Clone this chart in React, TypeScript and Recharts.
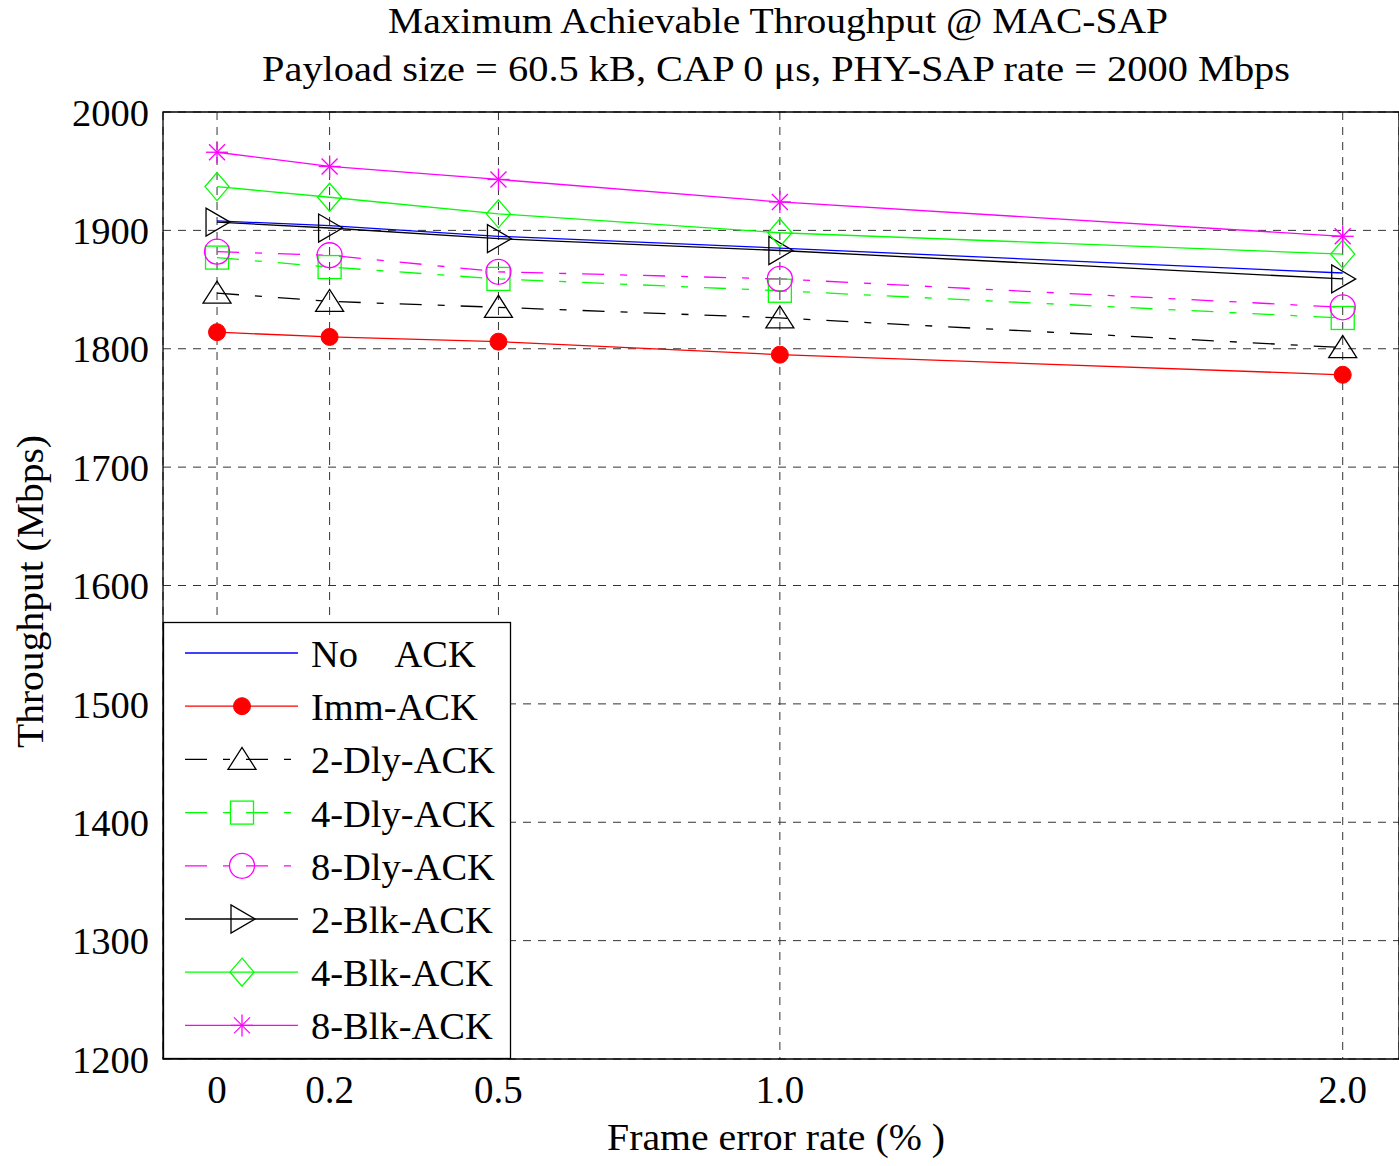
import * as React from 'react'
import { LineChart, Line, XAxis, YAxis, CartesianGrid, ReferenceArea } from 'recharts'

// frame error rate (%) and the throughput of each ACK policy (Mbps)
const fer = [0, 0.2, 0.5, 1.0, 2.0]
const xTickLabels = ['0', '0.2', '0.5', '1.0', '2.0']
const yTicks = [1200, 1300, 1400, 1500, 1600, 1700, 1800, 1900, 2000]

const noAck = [1908, 1904, 1895, 1885, 1864]
const immAck = [1814, 1810, 1806, 1795, 1778]
const dly2Ack = [1847, 1840, 1835, 1826, 1801]
const dly4Ack = [1877, 1869, 1859, 1849, 1826]
const dly8Ack = [1882, 1879, 1865, 1859, 1835]
const blk2Ack = [1907, 1902, 1893, 1883, 1859]
const blk4Ack = [1937, 1928, 1914, 1898, 1880]
const blk8Ack = [1966, 1954, 1943, 1924, 1895]

const FONT = '"Liberation Serif", "Times New Roman", serif'
const DASHDOT = '22 16 7 16'

type Kind = 'none' | 'dot' | 'triUp' | 'square' | 'circle' | 'triRight' | 'diamond' | 'star'

const series: { key: string, name: string, color: string, dash?: string, marker: Kind }[] = [
    { key: 'noAck', name: 'No    ACK', color: '#0000ff', marker: 'none' },
    { key: 'immAck', name: 'Imm-ACK', color: '#ff0000', marker: 'dot' },
    { key: 'dly2Ack', name: '2-Dly-ACK', color: '#000000', dash: DASHDOT, marker: 'triUp' },
    { key: 'dly4Ack', name: '4-Dly-ACK', color: '#00ff00', dash: DASHDOT, marker: 'square' },
    { key: 'dly8Ack', name: '8-Dly-ACK', color: '#ff00ff', dash: DASHDOT, marker: 'circle' },
    { key: 'blk2Ack', name: '2-Blk-ACK', color: '#000000', marker: 'triRight' },
    { key: 'blk4Ack', name: '4-Blk-ACK', color: '#00ff00', marker: 'diamond' },
    { key: 'blk8Ack', name: '8-Blk-ACK', color: '#ff00ff', marker: 'star' },
]

const data = fer.map((x, i) => ({
    x,
    noAck: noAck[i],
    immAck: immAck[i],
    dly2Ack: dly2Ack[i],
    dly4Ack: dly4Ack[i],
    dly8Ack: dly8Ack[i],
    blk2Ack: blk2Ack[i],
    blk4Ack: blk4Ack[i],
    blk8Ack: blk8Ack[i],
}))

function marker(kind: Kind, x: number, y: number, color: string, key?: string | number) {
    const s = { stroke: color, strokeWidth: 1.3, fill: 'none' }
    switch (kind) {
        case 'dot':
            return <circle key={key} cx={x} cy={y} r={8.5} fill={color} stroke={color} />
        case 'triUp':
            return <polygon key={key} points={`${x - 14},${y + 10} ${x + 14},${y + 10} ${x},${y - 12}`} {...s} />
        case 'square':
            return <rect key={key} x={x - 11.5} y={y - 11.5} width={23} height={23} {...s} />
        case 'circle':
            return <circle key={key} cx={x} cy={y} r={12.5} {...s} />
        case 'triRight':
            return <polygon key={key} points={`${x - 11},${y - 14} ${x - 11},${y + 14} ${x + 13},${y}`} {...s} />
        case 'diamond':
            return <polygon key={key} points={`${x},${y - 14} ${x + 12},${y} ${x},${y + 14} ${x - 12},${y}`} {...s} />
        case 'star':
            return (
                <g key={key} {...s}>
                    <line x1={x} y1={y - 11} x2={x} y2={y + 11} />
                    <line x1={x - 11} y1={y} x2={x + 11} y2={y} />
                    <line x1={x - 8} y1={y - 8} x2={x + 8} y2={y + 8} />
                    <line x1={x - 8} y1={y + 8} x2={x + 8} y2={y - 8} />
                </g>
            )
        default:
            return <g key={key} />
    }
}

const Overlay = () => {
    const rowY = (i: number) => 653 + i * 53.2
    return (
        <svg width={1399} height={1166} style={{ position: 'absolute', left: 0, top: 0, pointerEvents: 'none' }}>
            <g fontFamily={FONT} fill="#000">
                <text x={388} y={33} fontSize={35} textLength={780} lengthAdjust="spacingAndGlyphs">Maximum Achievable Throughput @ MAC-SAP</text>
                <text x={262} y={81} fontSize={35} textLength={1028} lengthAdjust="spacingAndGlyphs">Payload size = 60.5 kB, CAP 0 μs, PHY-SAP rate = 2000 Mbps</text>
                <text x={607} y={1150} fontSize={37} textLength={338} lengthAdjust="spacingAndGlyphs" style={{ whiteSpace: 'pre' }}>Frame error rate (% )</text>
                <text transform="translate(43,748) rotate(-90)" fontSize={37} textLength={313} lengthAdjust="spacingAndGlyphs">Throughput (Mbps)</text>
            </g>
            <rect x={163.5} y={622.5} width={347} height={436} fill="#fff" stroke="#000" strokeWidth={1.3} />
            {series.map((s, i) => (
                <g key={s.key}>
                    <line x1={185} x2={298} y1={rowY(i)} y2={rowY(i)} stroke={s.color} strokeWidth={1.3} strokeDasharray={s.dash} />
                    {marker(s.marker, 242, rowY(i), s.color)}
                    <text x={311} y={rowY(i) + 14} fontFamily={FONT} fontSize={38.5} fill="#000" style={{ whiteSpace: 'pre' }}>{s.name}</text>
                </g>
            ))}
        </svg>
    )
}

export default function App() {
    return (
        <div style={{ position: 'absolute', left: 0, top: 0, width: 1399, height: 1166, background: '#fff', overflow: 'hidden' }}>
            <LineChart width={1399} height={1166} data={data} margin={{ top: 112, right: 0, bottom: 47, left: 63 }}>
                <CartesianGrid stroke="#333" strokeDasharray="8 7" strokeWidth={1} />
                <XAxis
                    dataKey="x"
                    type="number"
                    domain={[-0.096, 2.1]}
                    allowDataOverflow
                    ticks={fer}
                    tickFormatter={(v: number) => xTickLabels[fer.indexOf(v)] ?? String(v)}
                    tickLine={false}
                    axisLine={false}
                    tickMargin={10}
                    height={60}
                    interval={0}
                    tick={{ fontSize: 39, fill: '#000', fontFamily: FONT }}
                />
                <YAxis
                    type="number"
                    domain={[1200, 2000]}
                    allowDataOverflow
                    ticks={yTicks}
                    tickLine={false}
                    axisLine={false}
                    tickMargin={8}
                    width={100}
                    interval={0}
                    tick={{ fontSize: 38.5, fill: '#000', fontFamily: FONT }}
                />
                <ReferenceArea x1={-0.096} x2={2.1} y1={1200} y2={2000} fill="none" stroke="#000" strokeWidth={1.3} />
                {series.map(s => (
                    <Line
                        key={s.key}
                        type="linear"
                        dataKey={s.key}
                        stroke={s.color}
                        strokeWidth={1.3}
                        strokeDasharray={s.dash}
                        isAnimationActive={false}
                        dot={(p: any) => marker(s.marker, p.cx, p.cy, s.color, `${s.key}-${p.index}`)}
                        activeDot={false}
                    />
                ))}
            </LineChart>
            <Overlay />
        </div>
    )
}
